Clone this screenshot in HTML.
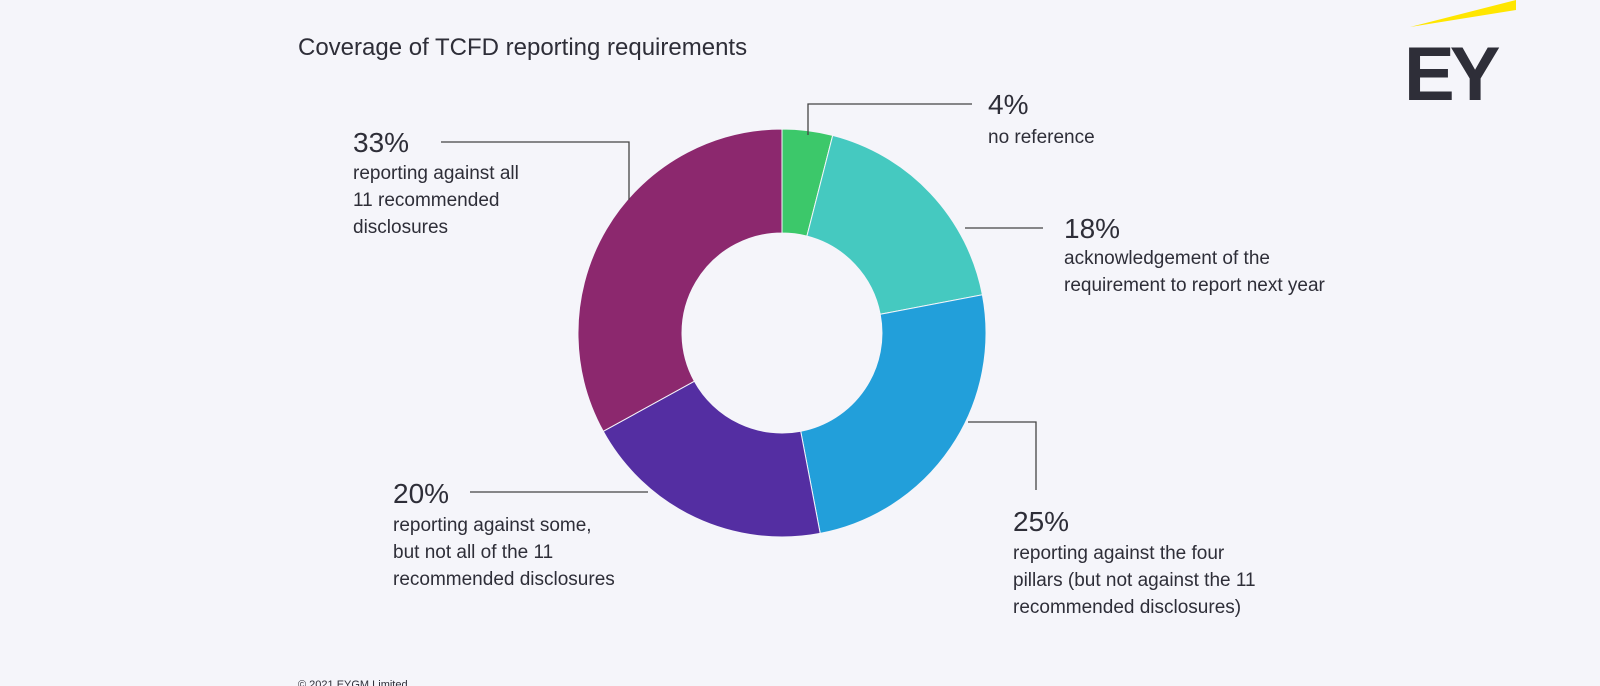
<!DOCTYPE html>
<html><head><style>
body{margin:0;background:#f5f5fa;}
svg{display:block;font-family:"Liberation Sans",sans-serif;}
</style></head><body>
<svg width="1600" height="686" viewBox="0 0 1600 686">
<rect width="1600" height="686" fill="#f5f5fa"/>
<text x="298" y="55" font-size="24" fill="#2e2e38">Coverage of TCFD reporting requirements</text>
<polygon points="1410,27 1516,0 1516,10" fill="#ffe600"/>
<text x="1404" y="100" font-size="76" font-weight="bold" fill="#2e2e38" letter-spacing="-5">EY</text>
<g stroke="#f5f5fa" stroke-width="1">
<path d="M782,129 A204,204 0 0 1 832.7,135.4 L806.9,236.1 A100,100 0 0 0 782,233 Z" fill="#3cc86a"/>
<path d="M832.7,135.4 A204,204 0 0 1 982.4,294.8 L880.2,314.3 A100,100 0 0 0 806.9,236.1 Z" fill="#45c9c0"/>
<path d="M982.4,294.8 A204,204 0 0 1 820.2,533.4 L800.7,431.2 A100,100 0 0 0 880.2,314.3 Z" fill="#229fda"/>
<path d="M820.2,533.4 A204,204 0 0 1 603.2,431.3 L694.4,381.2 A100,100 0 0 0 800.7,431.2 Z" fill="#542ea2"/>
<path d="M603.2,431.3 A204,204 0 0 1 782,129 L782,233 A100,100 0 0 0 694.4,381.2 Z" fill="#8c286e"/>
</g>
<g stroke="#444" stroke-width="1.3" fill="none">
<polyline points="808,135 808,104 972,104"/>
<polyline points="965,228 1043,228"/>
<polyline points="968,422 1036,422 1036,490"/>
<polyline points="470,492 648,492"/>
<polyline points="441,142 629,142 629,200"/>
</g>
<g fill="#2e2e38">
<text x="988" y="114" font-size="28">4%</text>
<text x="988" y="143" font-size="19">no reference</text>
<text x="1064" y="238" font-size="28">18%</text>
<text x="1064" y="264" font-size="19">acknowledgement of the</text>
<text x="1064" y="291" font-size="19">requirement to report next year</text>
<text x="1013" y="531" font-size="28">25%</text>
<text x="1013" y="559" font-size="19">reporting against the four</text>
<text x="1013" y="586" font-size="19">pillars (but not against the 11</text>
<text x="1013" y="613" font-size="19">recommended disclosures)</text>
<text x="393" y="503" font-size="28">20%</text>
<text x="393" y="531" font-size="19">reporting against some,</text>
<text x="393" y="558" font-size="19">but not all of the 11</text>
<text x="393" y="585" font-size="19">recommended disclosures</text>
<text x="353" y="152" font-size="28">33%</text>
<text x="353" y="179" font-size="19">reporting against all</text>
<text x="353" y="206" font-size="19">11 recommended</text>
<text x="353" y="233" font-size="19">disclosures</text>
<text x="298" y="688" font-size="11">© 2021 EYGM Limited</text>
</g>
</svg>
</body></html>
